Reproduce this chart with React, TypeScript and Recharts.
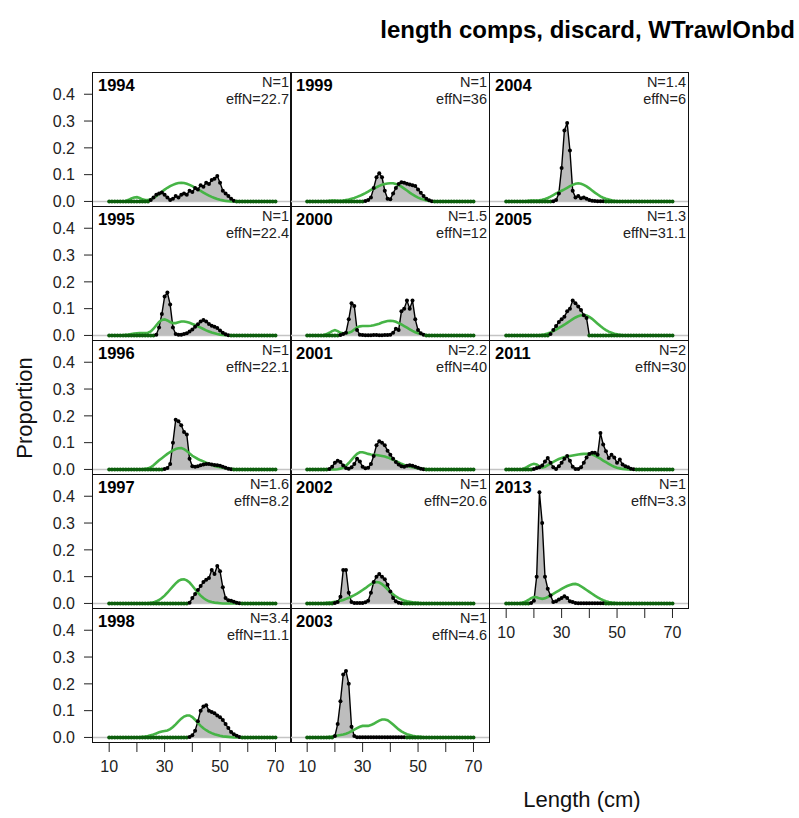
import { ComposedChart, Area, Line, XAxis, YAxis, ReferenceLine } from "recharts";

// Length bins (cm)
const lengthBins = [
  10, 11, 12, 13, 14, 15, 16, 17, 18, 19,
  20, 21, 22, 23, 24, 25, 26, 27, 28, 29,
  30, 31, 32, 33, 34, 35, 36, 37, 38, 39,
  40, 41, 42, 43, 44, 45, 46, 47, 48, 49,
  50, 51, 52, 53, 54, 55, 56, 57, 58, 59,
  60, 61, 62, 63, 64, 65, 66, 67, 68, 69,
  70,
];

// Observed proportions (obs) and expected proportions (exp) by year
const obs1994 = [
  0, 0, 0, 0, 0, 0, 0, 0, 0, 0,
  0, 0, 0, 0, 0, .005, .015, .025, .03, .033,
  .025, .015, .005, .01, .02, .015, .025, .03, .025, .04,
  .035, .05, .045, .06, .055, .07, .065, .08, .085, .095,
  .07, .04, .03, .02, .01, .003, 0, 0, 0, 0,
  0, 0, 0, 0, 0, 0, 0, 0, 0, 0,
  0,
];
const exp1994 = [
  0, 0, 0, 0, 0, 0, .002, .006, .011, .015,
  .016, .013, .008, .005, .005, .008, .013, .02, .028, .036,
  .044, .051, .057, .062, .066, .069, .07, .069, .066, .062,
  .057, .051, .045, .039, .033, .027, .022, .017, .013, .009,
  .006, .004, .002, .001, 0, 0, 0, 0, 0, 0,
  0, 0, 0, 0, 0, 0, 0, 0, 0, 0,
  0,
];
const obs1995 = [
  0, 0, 0, 0, 0, 0, 0, 0, 0, 0,
  0, 0, 0, 0, 0, 0, 0, .003, .03, .08,
  .145, .16, .115, .03, .005, .003, .003, .005, .008, .015,
  .022, .032, .042, .052, .058, .052, .043, .036, .032, .028,
  .018, .01, .004, .001, 0, 0, 0, 0, 0, 0,
  0, 0, 0, 0, 0, 0, 0, 0, 0, 0,
  0,
];
const exp1995 = [
  0, 0, 0, 0, 0, .001, .002, .003, .005, .007,
  .008, .009, .009, .009, .01, .015, .025, .038, .05, .058,
  .06, .056, .05, .046, .046, .049, .052, .052, .05, .047,
  .043, .039, .034, .029, .024, .019, .015, .011, .008, .005,
  .003, .002, .001, 0, 0, 0, 0, 0, 0, 0,
  0, 0, 0, 0, 0, 0, 0, 0, 0, 0,
  0,
];
const obs1996 = [
  0, 0, 0, 0, 0, 0, 0, 0, 0, 0,
  0, 0, 0, 0, 0, 0, 0, 0, 0, 0,
  .002, .005, .02, .1, .185, .18, .165, .14, .13, .04,
  .012, .01, .012, .016, .018, .02, .02, .018, .017, .016,
  .014, .01, .006, .003, .001, 0, 0, 0, 0, 0,
  0, 0, 0, 0, 0, 0, 0, 0, 0, 0,
  0,
];
const exp1996 = [
  0, 0, 0, 0, 0, 0, 0, 0, 0, 0,
  0, 0, .001, .002, .004, .008, .016, .025, .034, .042,
  .05, .058, .065, .071, .076, .079, .08, .076, .069, .06,
  .051, .045, .039, .034, .03, .025, .021, .017, .013, .01,
  .008, .006, .004, .003, .002, .001, 0, 0, 0, 0,
  0, 0, 0, 0, 0, 0, 0, 0, 0, 0,
  0,
];
const obs1997 = [
  0, 0, 0, 0, 0, 0, 0, 0, 0, 0,
  0, 0, 0, 0, 0, 0, 0, 0, 0, 0,
  0, 0, 0, 0, 0, 0, 0, 0, 0, .003,
  .02, .035, .05, .065, .08, .088, .095, .125, .11, .14,
  .12, .06, .02, .012, .01, .006, .003, .001, 0, 0,
  0, 0, 0, 0, 0, 0, 0, 0, 0, 0,
  0,
];
const exp1997 = [
  0, 0, 0, 0, 0, 0, 0, 0, 0, 0,
  0, 0, 0, 0, .001, .002, .004, .008, .013, .02,
  .029, .04, .052, .064, .075, .084, .089, .09, .086, .078,
  .066, .053, .04, .029, .02, .013, .008, .005, .003, .002,
  .001, 0, 0, 0, 0, 0, 0, 0, 0, 0,
  0, 0, 0, 0, 0, 0, 0, 0, 0, 0,
  0,
];
const obs1998 = [
  0, 0, 0, 0, 0, 0, 0, 0, 0, 0,
  0, 0, 0, 0, 0, 0, 0, 0, 0, 0,
  0, 0, 0, 0, 0, 0, 0, 0, 0, .002,
  .008, .025, .06, .1, .115, .12, .1, .095, .09, .082,
  .075, .065, .05, .035, .02, .012, .006, .002, 0, 0,
  0, 0, 0, 0, 0, 0, 0, 0, 0, 0,
  0,
];
const exp1998 = [
  0, 0, 0, 0, 0, 0, 0, 0, 0, 0,
  0, .001, .002, .003, .005, .008, .011, .015, .019, .022,
  .024, .026, .031, .039, .049, .06, .07, .078, .082, .082,
  .076, .066, .054, .043, .034, .027, .021, .016, .012, .009,
  .006, .004, .003, .002, .001, 0, 0, 0, 0, 0,
  0, 0, 0, 0, 0, 0, 0, 0, 0, 0,
  0,
];
const obs1999 = [
  0, 0, 0, 0, 0, 0, 0, 0, 0, 0,
  0, 0, 0, 0, 0, 0, 0, 0, 0, 0,
  0, .002, .005, .015, .05, .09, .105, .09, .04, .01,
  .008, .03, .05, .065, .072, .07, .066, .063, .06, .058,
  .045, .032, .02, .01, .004, .001, 0, 0, 0, 0,
  0, 0, 0, 0, 0, 0, 0, 0, 0, 0,
  0,
];
const exp1999 = [
  0, 0, 0, 0, 0, 0, 0, .001, .002, .003,
  .003, .002, .002, .003, .005, .007, .01, .013, .017, .021,
  .026, .031, .037, .043, .048, .053, .058, .062, .065, .067,
  .068, .068, .065, .061, .055, .048, .041, .033, .026, .02,
  .014, .01, .007, .004, .002, .001, 0, 0, 0, 0,
  0, 0, 0, 0, 0, 0, 0, 0, 0, 0,
  0,
];
const obs2000 = [
  0, 0, 0, 0, 0, 0, 0, 0, 0, 0,
  0, 0, .002, .005, .01, .06, .12, .11, .02, .003,
  .002, .001, .001, .001, .002, .002, .001, .001, .002, .002,
  .003, .01, .025, .02, .09, .1, .13, .1, .13, .06,
  .02, .008, .003, 0, 0, 0, 0, 0, 0, 0,
  0, 0, 0, 0, 0, 0, 0, 0, 0, 0,
  0,
];
const exp2000 = [
  0, 0, 0, 0, 0, 0, .002, .005, .01, .016,
  .02, .016, .01, .008, .008, .01, .014, .022, .03, .034,
  .035, .035, .035, .036, .038, .041, .044, .048, .051, .054,
  .055, .054, .051, .046, .041, .035, .029, .023, .017, .012,
  .008, .005, .003, .001, 0, 0, 0, 0, 0, 0,
  0, 0, 0, 0, 0, 0, 0, 0, 0, 0,
  0,
];
const obs2001 = [
  0, 0, 0, 0, 0, 0, 0, 0, .002, .01,
  .025, .032, .028, .015, .005, .003, .008, .02, .04, .03,
  .01, .004, .006, .02, .05, .09, .105, .1, .09, .07,
  .055, .04, .028, .018, .012, .01, .014, .016, .014, .01,
  .006, .003, .001, 0, 0, 0, 0, 0, 0, 0,
  0, 0, 0, 0, 0, 0, 0, 0, 0, 0,
  0,
];
const exp2001 = [
  0, 0, 0, 0, 0, 0, 0, 0, 0, 0,
  0, .001, .003, .007, .014, .024, .036, .048, .058, .064,
  .064, .061, .058, .056, .055, .054, .052, .05, .048, .045,
  .041, .036, .031, .026, .021, .017, .013, .01, .008, .006,
  .004, .003, .002, .001, 0, 0, 0, 0, 0, 0,
  0, 0, 0, 0, 0, 0, 0, 0, 0, 0,
  0,
];
const obs2002 = [
  0, 0, 0, 0, 0, 0, 0, 0, 0, 0,
  .002, .005, .025, .125, .125, .04, .005, .002, .002, .002,
  .002, .004, .01, .04, .08, .1, .11, .1, .09, .07,
  .045, .02, .008, .003, .001, 0, 0, 0, 0, 0,
  0, 0, 0, 0, 0, 0, 0, 0, 0, 0,
  0, 0, 0, 0, 0, 0, 0, 0, 0, 0,
  0,
];
const exp2002 = [
  0, 0, 0, 0, 0, 0, .001, .002, .003, .004,
  .006, .008, .01, .013, .017, .021, .026, .031, .037, .043,
  .05, .057, .065, .072, .077, .08, .078, .072, .063, .053,
  .043, .034, .026, .02, .015, .011, .008, .006, .004, .003,
  .002, .001, 0, 0, 0, 0, 0, 0, 0, 0,
  0, 0, 0, 0, 0, 0, 0, 0, 0, 0,
  0,
];
const obs2003 = [
  0, 0, 0, 0, 0, 0, 0, 0, 0, 0,
  .005, .05, .135, .235, .248, .2, .04, .005, .001, .001,
  .001, .001, .001, .001, .001, .001, .001, .001, .001, .001,
  .001, .001, .001, .001, .001, .001, 0, 0, 0, 0,
  0, 0, 0, 0, 0, 0, 0, 0, 0, 0,
  0, 0, 0, 0, 0, 0, 0, 0, 0, 0,
  0,
];
const exp2003 = [
  0, 0, 0, 0, 0, 0, 0, .001, .002, .003,
  .005, .007, .009, .011, .014, .018, .023, .029, .035, .04,
  .043, .043, .043, .046, .051, .057, .063, .067, .067, .064,
  .057, .048, .039, .03, .023, .017, .012, .009, .006, .004,
  .003, .002, .001, 0, 0, 0, 0, 0, 0, 0,
  0, 0, 0, 0, 0, 0, 0, 0, 0, 0,
  0,
];
const obs2004 = [
  0, 0, 0, 0, 0, 0, 0, 0, 0, 0,
  0, 0, 0, 0, 0, 0, 0, .001, .005, .03,
  .125, .265, .293, .19, .04, .015, .02, .012, .015, .01,
  .005, .003, .002, .001, .001, .001, 0, 0, 0, 0,
  0, 0, 0, 0, 0, 0, 0, 0, 0, 0,
  0, 0, 0, 0, 0, 0, 0, 0, 0, 0,
  0,
];
const exp2004 = [
  0, 0, 0, 0, 0, 0, 0, .001, .002, .003,
  .003, .003, .004, .006, .009, .013, .018, .024, .03, .035,
  .04, .045, .051, .057, .062, .066, .068, .066, .062, .056,
  .049, .041, .033, .026, .019, .014, .01, .007, .004, .002,
  .001, 0, 0, 0, 0, 0, 0, 0, 0, 0,
  0, 0, 0, 0, 0, 0, 0, 0, 0, 0,
  0,
];
const obs2005 = [
  0, 0, 0, 0, 0, 0, 0, 0, 0, 0,
  0, 0, 0, 0, 0, 0, .005, .02, .035, .05,
  .06, .07, .09, .1, .13, .12, .108, .095, .075, .065,
  0, 0, 0, 0, 0, 0, 0, 0, 0, 0,
  0, 0, 0, 0, 0, 0, 0, 0, 0, 0,
  0, 0, 0, 0, 0, 0, 0, 0, 0, 0,
  0,
];
const exp2005 = [
  0, 0, 0, 0, 0, 0, 0, 0, 0, 0,
  0, 0, .001, .002, .004, .007, .011, .016, .022, .028,
  .034, .04, .047, .054, .061, .067, .072, .075, .076, .074,
  .069, .062, .053, .044, .035, .027, .02, .014, .01, .006,
  .004, .002, .001, 0, 0, 0, 0, 0, 0, 0,
  0, 0, 0, 0, 0, 0, 0, 0, 0, 0,
  0,
];
const obs2011 = [
  0, 0, 0, 0, 0, 0, 0, 0, 0, 0,
  .002, .005, .008, .015, .03, .043, .025, .008, .002, .012,
  .025, .04, .05, .032, .01, .002, .002, .008, .025, .045,
  .058, .062, .062, .055, .136, .093, .068, .043, .055, .045,
  .025, .037, .018, .012, .008, .003, .001, 0, 0, 0,
  0, 0, 0, 0, 0, 0, 0, 0, 0, 0,
  0,
];
const exp2011 = [
  0, 0, 0, 0, 0, 0, .002, .006, .012, .018,
  .021, .019, .012, .007, .01, .016, .022, .028, .034, .039,
  .043, .046, .048, .05, .052, .054, .056, .057, .058, .058,
  .058, .056, .052, .046, .04, .033, .027, .021, .015, .01,
  .006, .004, .002, .001, 0, 0, 0, 0, 0, 0,
  0, 0, 0, 0, 0, 0, 0, 0, 0, 0,
  0,
];
const obs2013 = [
  0, 0, 0, 0, 0, 0, 0, 0, 0, .002,
  .01, .1, .415, .3, .1, .055, .03, .005, .008, .015,
  .02, .027, .02, .008, .005, .002, .001, .001, .001, .001,
  .001, .001, .001, .001, .001, .001, 0, 0, 0, 0,
  0, 0, 0, 0, 0, 0, 0, 0, 0, 0,
  0, 0, 0, 0, 0, 0, 0, 0, 0, 0,
  0,
];
const exp2013 = [
  0, 0, 0, 0, 0, .001, .003, .007, .013, .02,
  .024, .023, .019, .017, .019, .024, .03, .036, .042, .048,
  .054, .06, .065, .069, .072, .073, .07, .064, .057, .05,
  .043, .036, .029, .023, .017, .012, .008, .005, .003, .002,
  .001, 0, 0, 0, 0, 0, 0, 0, 0, 0,
  0, 0, 0, 0, 0, 0, 0, 0, 0, 0,
  0,
];

const xTicks = [10, 20, 30, 40, 50, 60, 70];
const yTicks = [0, 0.1, 0.2, 0.3, 0.4];

const FONT = '"Liberation Sans", Arial, Helvetica, sans-serif';
const PANEL_W = 199;
const PANEL_H = 134;
const COL_LEFT = [92, 290, 489];
const ROW_TOP = [72, 206, 340, 474, 608];
const X_DOMAIN: [number, number] = [3.8, 75.6];
const Y_DOMAIN: [number, number] = [-0.017, 0.483];
const PAD = 12; // spare room under each plot so tick labels are not clipped

interface PanelDef {
  year: string;
  n: string;
  effN: string;
  obs: number[];
  exp: number[];
  col: number;
  row: number;
  xAxis?: boolean;
}

const panels: PanelDef[] = [
  { year: "1994", n: "N=1", effN: "effN=22.7", obs: obs1994, exp: exp1994, col: 0, row: 0 },
  { year: "1995", n: "N=1", effN: "effN=22.4", obs: obs1995, exp: exp1995, col: 0, row: 1 },
  { year: "1996", n: "N=1", effN: "effN=22.1", obs: obs1996, exp: exp1996, col: 0, row: 2 },
  { year: "1997", n: "N=1.6", effN: "effN=8.2", obs: obs1997, exp: exp1997, col: 0, row: 3 },
  { year: "1998", n: "N=3.4", effN: "effN=11.1", obs: obs1998, exp: exp1998, col: 0, row: 4, xAxis: true },
  { year: "1999", n: "N=1", effN: "effN=36", obs: obs1999, exp: exp1999, col: 1, row: 0 },
  { year: "2000", n: "N=1.5", effN: "effN=12", obs: obs2000, exp: exp2000, col: 1, row: 1 },
  { year: "2001", n: "N=2.2", effN: "effN=40", obs: obs2001, exp: exp2001, col: 1, row: 2 },
  { year: "2002", n: "N=1", effN: "effN=20.6", obs: obs2002, exp: exp2002, col: 1, row: 3 },
  { year: "2003", n: "N=1", effN: "effN=4.6", obs: obs2003, exp: exp2003, col: 1, row: 4, xAxis: true },
  { year: "2004", n: "N=1.4", effN: "effN=6", obs: obs2004, exp: exp2004, col: 2, row: 0 },
  { year: "2005", n: "N=1.3", effN: "effN=31.1", obs: obs2005, exp: exp2005, col: 2, row: 1 },
  { year: "2011", n: "N=2", effN: "effN=30", obs: obs2011, exp: exp2011, col: 2, row: 2 },
  { year: "2013", n: "N=1", effN: "effN=3.3", obs: obs2013, exp: exp2013, col: 2, row: 3, xAxis: true },
];

// black points for observed bins, dark green where the bin is empty
const ObsDot = (props: any) => {
  const { cx, cy, payload, index } = props;
  if (cx == null || cy == null) return <g key={`d${index}`} />;
  const empty = payload.obs === 0;
  return <circle key={`d${index}`} cx={cx} cy={cy} r={2} fill={empty ? "#0d5e0d" : "#000"} stroke="none" />;
};

const tickStyle = { fontSize: 16, fill: "#222", fontFamily: FONT };

const cornerText = (left: number, top: number): React.CSSProperties => ({
  position: "absolute",
  left: left + PANEL_W - 2 - 90,
  width: 90,
  top,
  fontSize: 14.5,
  lineHeight: "normal",
  textAlign: "right",
  color: "#222",
  whiteSpace: "nowrap",
});

const CompPanel = ({ p }: { p: PanelDef }) => {
  const yw = p.col === 0 ? 92 : 0;
  const xh = p.xAxis ? 50 : 0;
  const left = COL_LEFT[p.col];
  const top = ROW_TOP[p.row];
  const rows = lengthBins.map((len, i) => ({ len, obs: p.obs[i], exp: p.exp[i] }));

  return (
    <>
      <div style={{ position: "absolute", left: left - yw, top }}>
        <ComposedChart
          width={PANEL_W + yw}
          height={PANEL_H + xh + PAD}
          data={rows}
          margin={{ top: 0, right: 0, bottom: PAD, left: 0 }}
        >
          <XAxis
            type="number"
            dataKey="len"
            domain={X_DOMAIN}
            allowDataOverflow
            ticks={xTicks}
            interval={0}
            hide={!p.xAxis}
            height={xh}
            axisLine={false}
            tickSize={10}
            tickMargin={9}
            tickLine={{ stroke: "#222" }}
            tick={tickStyle}
            tickFormatter={(v: number) => (v % 20 === 10 ? String(v) : "")}
          />
          <YAxis
            type="number"
            domain={Y_DOMAIN}
            allowDataOverflow
            ticks={yTicks}
            interval={0}
            hide={p.col !== 0}
            width={yw}
            axisLine={false}
            tickSize={8}
            tickMargin={9}
            tickLine={{ stroke: "#222" }}
            tick={tickStyle}
            tickFormatter={(v: number) => v.toFixed(1)}
          />
          <ReferenceLine y={0} stroke="#c4c4c4" strokeWidth={1.5} />
          <Area
            type="linear"
            dataKey="obs"
            baseValue={0}
            stroke="#000"
            strokeWidth={1.4}
            fill="#bdbdbd"
            fillOpacity={1}
            dot={false}
            activeDot={false}
            isAnimationActive={false}
          />
          <Line
            type="linear"
            dataKey="exp"
            stroke="#46b446"
            strokeWidth={2.6}
            dot={false}
            activeDot={false}
            isAnimationActive={false}
          />
          <Line
            type="linear"
            dataKey="obs"
            stroke="none"
            dot={ObsDot}
            activeDot={false}
            isAnimationActive={false}
          />
        </ComposedChart>
      </div>
      <div
        style={{
          position: "absolute",
          left,
          top,
          width: PANEL_W + 1,
          height: PANEL_H + 1,
          border: "1px solid #111",
          boxSizing: "border-box",
        }}
      />
      <div
        style={{
          position: "absolute",
          left: left + 6,
          top: top + 5,
          fontSize: 16.5,
          lineHeight: "17px",
          fontWeight: "bold",
          color: "#000",
        }}
      >
        {p.year}
      </div>
      <div style={cornerText(left, top + 1.5)}>{p.n}</div>
      <div style={cornerText(left, top + 18.5)}>{p.effN}</div>
    </>
  );
};

export default function App() {
  return (
    <div
      style={{
        position: "absolute",
        left: 0,
        top: 0,
        width: 799,
        height: 818,
        background: "#fff",
        fontFamily: FONT,
        overflow: "hidden",
      }}
    >
      {panels.map((p) => (
        <CompPanel key={p.year} p={p} />
      ))}
      <div
        style={{
          position: "absolute",
          right: 4,
          top: 16,
          fontSize: 24,
          lineHeight: "28px",
          fontWeight: "bold",
          color: "#000",
          whiteSpace: "nowrap",
        }}
      >
        length comps, discard, WTrawlOnbd
      </div>
      <div
        style={{
          position: "absolute",
          left: 25,
          top: 408,
          transform: "translate(-50%, -50%) rotate(-90deg)",
          fontSize: 22,
          color: "#111",
          whiteSpace: "nowrap",
        }}
      >
        Proportion
      </div>
      <div
        style={{
          position: "absolute",
          left: 582,
          top: 800,
          transform: "translate(-50%, -50%)",
          fontSize: 22,
          color: "#111",
          whiteSpace: "nowrap",
        }}
      >
        Length (cm)
      </div>
    </div>
  );
}
